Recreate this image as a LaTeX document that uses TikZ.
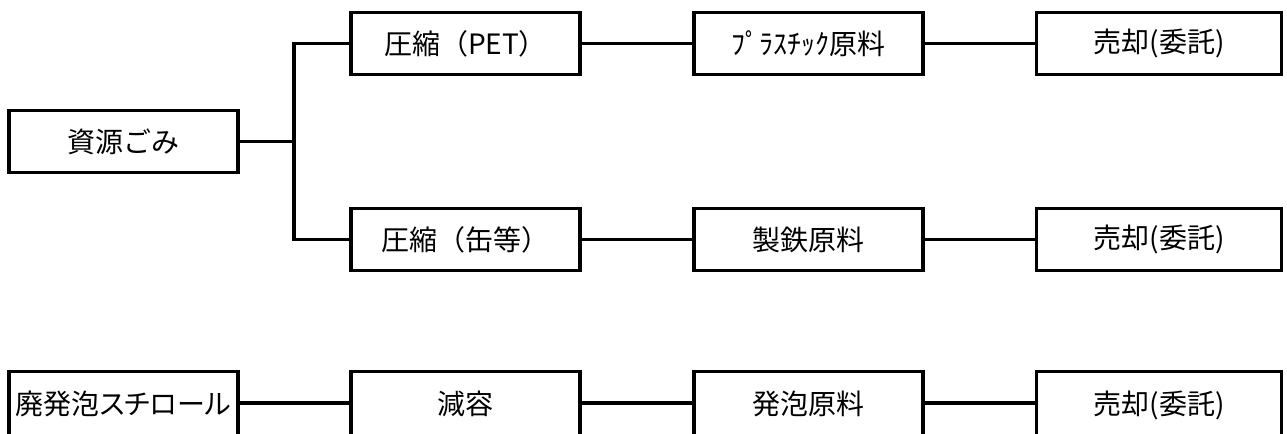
\documentclass[tikz,border=0pt]{standalone}
\usepackage{fontspec}
\setmainfont{Noto Sans CJK JP}
\newfontfamily\jpprop[RawFeature=+palt]{Noto Sans CJK JP}
\begin{document}
\begin{tikzpicture}[x=0.5pt,y=-0.5pt,
  box/.style={draw,line width=1.7pt,minimum width=114.5pt,minimum height=31pt,inner sep=0pt,font=\fontsize{14}{16}\selectfont},
  widebox/.style={box,minimum width=122.5pt},
  tall/.style={minimum height=35pt,text depth=0pt,yshift=1.75pt},
  conn/.style={line width=1.7pt}]
\useasboundingbox (0,0) rectangle (1287,434);
\clip (0,0) rectangle (1287,434);
\fill[white] (0,0) rectangle (1287,434);
\node[box] (a) at (123.5,141.5) {資源ごみ};
\node[box] (b1) at (465.5,43.5) {圧縮（PET）};
\node[box] (b2) at (465.5,239.5) {圧縮（缶等）};
\node[box] (c1) at (808.5,43.5) {ﾌﾟﾗｽﾁｯｸ原料};
\node[box] (c2) at (808.5,239.5) {製鉄原料};
\node[widebox] (d1) at (1159,43.5) {売却(委託)};
\node[widebox] (d2) at (1159,239.5) {売却(委託)};
\node[box,font=\jpprop\fontsize{14}{16}\selectfont,minimum height=35pt] (e) at (123.5,406.5) {\raisebox{3.5pt}{廃発泡スチロール}};
\node[box,minimum height=35pt] (f) at (465.5,406.5) {\raisebox{3.5pt}{減容}};
\node[box,minimum height=35pt] (g) at (808.5,406.5) {\raisebox{3.5pt}{発泡原料}};
\node[widebox,minimum height=35pt] (h) at (1159,406.5) {\raisebox{3.5pt}{売却(委託)}};
\coordinate (j) at (294,141.5);
\draw[conn] (a.east) -- (j);
\draw[conn] (j) |- (b1.west);
\draw[conn] (j) |- (b2.west);
\draw[conn] (b1) -- (c1);
\draw[conn] (c1) -- (d1);
\draw[conn] (b2) -- (c2);
\draw[conn] (c2) -- (d2);
\draw[conn] ([yshift=1.75pt]e.east) -- ([yshift=1.75pt]f.west);
\draw[conn] ([yshift=1.75pt]f.east) -- ([yshift=1.75pt]g.west);
\draw[conn] ([yshift=1.75pt]g.east) -- ([yshift=1.75pt]h.west);
\end{tikzpicture}
\end{document}
